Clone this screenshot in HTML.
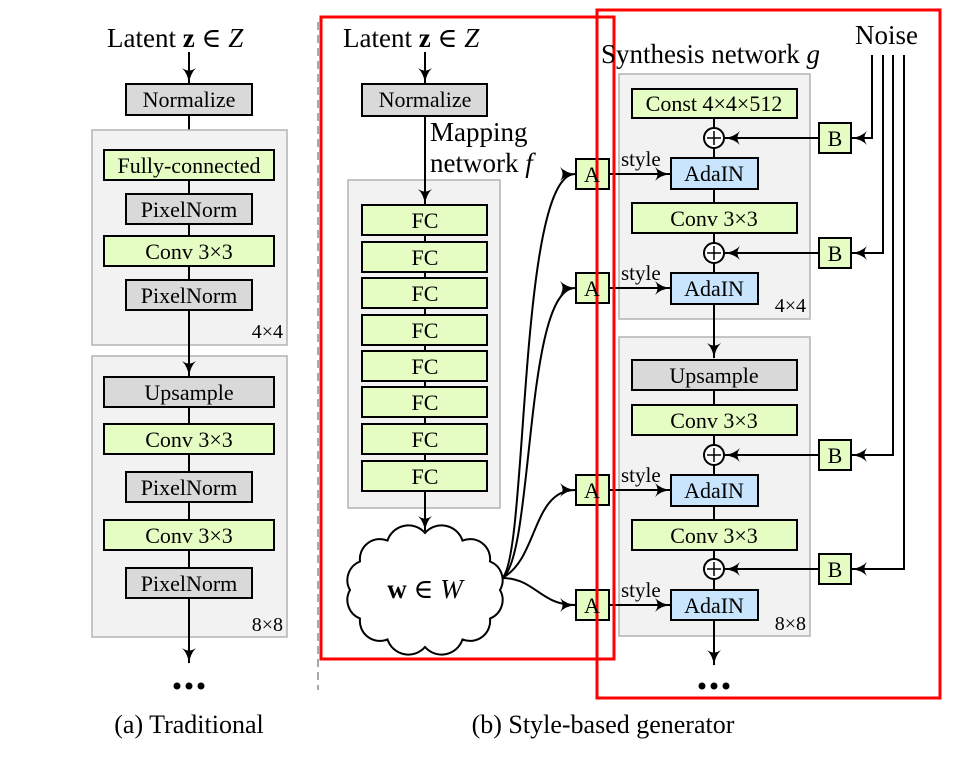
<!DOCTYPE html>
<html><head><meta charset="utf-8"><style>
html,body{margin:0;padding:0;background:#fff;}
svg{display:block;}
svg text{font-family:"Liberation Serif","DejaVu Serif",serif;fill:#000;}
</style></head><body>
<svg width="966" height="757" viewBox="0 0 966 757" xmlns="http://www.w3.org/2000/svg" font-family="Liberation Serif, DejaVu Serif, serif">
<defs>
<marker id="ah" viewBox="0 0 16 16" refX="15" refY="8" markerWidth="16" markerHeight="16" markerUnits="userSpaceOnUse" orient="auto">
<path d="M0,1 Q6,7 16,8 Q6,9 0,15 Q5,8 0,1Z" fill="#000"/>
</marker>
</defs>
<g stroke="#000" stroke-width="2" fill="none">
<line x1="189" y1="52" x2="189" y2="83" marker-end="url(#ah)"/>
<line x1="189" y1="115" x2="189" y2="149" marker-end="url(#ah)"/>
</g>
<g fill="#f2f2f2" stroke="#b3b3b3" stroke-width="1.5">
<rect x="92" y="130" width="195" height="215"/>
<rect x="92" y="356" width="195" height="281"/>
<rect x="348" y="180" width="152" height="328"/>
<rect x="619" y="74" width="191" height="245"/>
<rect x="619" y="337" width="191" height="299"/>
</g>
<g stroke="#000" stroke-width="2" fill="none">
<line x1="189" y1="180" x2="189" y2="376" marker-end="url(#ah)"/>
<line x1="189" y1="407" x2="189" y2="663" marker-end="url(#ah)"/>
<line x1="425" y1="52" x2="425" y2="83" marker-end="url(#ah)"/>
<line x1="425" y1="116" x2="425" y2="204" marker-end="url(#ah)"/>
<line x1="425" y1="235" x2="425" y2="461"/>
<line x1="425" y1="491" x2="425" y2="531" marker-end="url(#ah)"/>
<line x1="714" y1="118" x2="714" y2="273"/>
<line x1="714" y1="304" x2="714" y2="358" marker-end="url(#ah)"/>
<line x1="714" y1="390" x2="714" y2="620"/>
<line x1="714" y1="620" x2="714" y2="665" marker-end="url(#ah)"/>
<path d="M502,578 C528,560 518,174 575,174" marker-end="url(#ah)"/>
<path d="M502,578 C534,560 524,288 575,288" marker-end="url(#ah)"/>
<path d="M502,578 C538,560 532,490 575,490" marker-end="url(#ah)"/>
<path d="M502,578 C535,578 540,605 575,605" marker-end="url(#ah)"/>
<line x1="609" y1="174" x2="670" y2="174" marker-end="url(#ah)"/>
<line x1="609" y1="288" x2="670" y2="288" marker-end="url(#ah)"/>
<line x1="609" y1="490" x2="670" y2="490" marker-end="url(#ah)"/>
<line x1="609" y1="605" x2="670" y2="605" marker-end="url(#ah)"/>
<line x1="819" y1="138" x2="725" y2="138" marker-end="url(#ah)"/>
<line x1="819" y1="253" x2="725" y2="253" marker-end="url(#ah)"/>
<line x1="819" y1="455" x2="725" y2="455" marker-end="url(#ah)"/>
<line x1="819" y1="569" x2="725" y2="569" marker-end="url(#ah)"/>
<path d="M872,55 V138 H852" marker-end="url(#ah)"/>
<path d="M883,55 V253 H852" marker-end="url(#ah)"/>
<path d="M893,55 V455 H852" marker-end="url(#ah)"/>
<path d="M904,55 V569 H852" marker-end="url(#ah)"/>
</g>
<g stroke="#000" stroke-width="2">
<rect x="126" y="84" width="126" height="31" fill="#d9d9d9"/>
<rect x="104" y="150" width="170" height="30" fill="#e5fcc2"/>
<rect x="126" y="194" width="126" height="30" fill="#d9d9d9"/>
<rect x="104" y="236" width="170" height="30" fill="#e5fcc2"/>
<rect x="126" y="280" width="126" height="30" fill="#d9d9d9"/>
<rect x="104" y="377" width="170" height="30" fill="#d9d9d9"/>
<rect x="104" y="424" width="170" height="30" fill="#e5fcc2"/>
<rect x="126" y="472" width="126" height="30" fill="#d9d9d9"/>
<rect x="104" y="520" width="170" height="30" fill="#e5fcc2"/>
<rect x="126" y="568" width="126" height="30" fill="#d9d9d9"/>
<rect x="362" y="84" width="125" height="32" fill="#d9d9d9"/>
<g fill="#e5fcc2">
<rect x="362" y="205" width="125" height="30"/>
<rect x="362" y="242" width="125" height="30"/>
<rect x="362" y="278" width="125" height="30"/>
<rect x="362" y="315" width="125" height="30"/>
<rect x="362" y="351" width="125" height="30"/>
<rect x="362" y="387" width="125" height="30"/>
<rect x="362" y="424" width="125" height="30"/>
<rect x="362" y="461" width="125" height="30"/>
<rect x="576" y="159" width="33" height="30"/>
<rect x="576" y="273" width="33" height="30"/>
<rect x="576" y="475" width="33" height="30"/>
<rect x="576" y="590" width="33" height="30"/>
<rect x="819" y="123" width="32" height="30"/>
<rect x="819" y="238" width="32" height="30"/>
<rect x="819" y="440" width="32" height="30"/>
<rect x="819" y="554" width="32" height="30"/>
<rect x="632" y="89" width="165" height="29"/>
<rect x="632" y="203" width="165" height="30"/>
<rect x="632" y="405" width="165" height="30"/>
<rect x="632" y="520" width="165" height="30"/>
</g>
<rect x="632" y="360" width="165" height="30" fill="#d9d9d9"/>
<g fill="#c9e5fd">
<rect x="671" y="158" width="87" height="31"/>
<rect x="671" y="273" width="87" height="31"/>
<rect x="671" y="475" width="87" height="31"/>
<rect x="671" y="590" width="87" height="30"/>
</g>
<g fill="#fff">
<circle cx="714" cy="138" r="10"/>
<circle cx="714" cy="253" r="10"/>
<circle cx="714" cy="455" r="10"/>
<circle cx="714" cy="569" r="10"/>
</g>
<path fill="#fff" d="M500,590 A20,20 0 0 1 490,618.5 A20,20 0 0 1 462.5,639.4 A22,22 0 0 1 425,647 A22,22 0 0 1 387.5,639.4 A20,20 0 0 1 360,618.5 A20,20 0 0 1 350,590 A20,20 0 0 1 360,561.5 A20,20 0 0 1 387.5,540.6 A22,22 0 0 1 425,533 A22,22 0 0 1 462.5,540.6 A20,20 0 0 1 490,561.5 A20,20 0 0 1 500,590Z"/>
</g>
<g stroke="#000" stroke-width="1.5">
<line x1="714" y1="131" x2="714" y2="145"/><line x1="707" y1="138" x2="721" y2="138"/>
<line x1="714" y1="246" x2="714" y2="260"/><line x1="707" y1="253" x2="721" y2="253"/>
<line x1="714" y1="448" x2="714" y2="462"/><line x1="707" y1="455" x2="721" y2="455"/>
<line x1="714" y1="562" x2="714" y2="576"/><line x1="707" y1="569" x2="721" y2="569"/>
</g>
<line x1="318" y1="22" x2="318" y2="690" stroke="#aaa" stroke-width="2" stroke-dasharray="8,5"/>
<rect x="321" y="17" width="293" height="642" fill="none" stroke="#f00" stroke-width="3"/>
<rect x="597" y="10" width="343" height="688" fill="none" stroke="#f00" stroke-width="3"/>
<g font-size="22" text-anchor="middle">
<text x="189" y="107">Normalize</text>
<text x="189" y="173">Fully-connected</text>
<text x="189" y="217">PixelNorm</text>
<text x="189" y="259">Conv 3×3</text>
<text x="189" y="303">PixelNorm</text>
<text x="189" y="400">Upsample</text>
<text x="189" y="447">Conv 3×3</text>
<text x="189" y="495">PixelNorm</text>
<text x="189" y="543">Conv 3×3</text>
<text x="189" y="591">PixelNorm</text>
<text x="425" y="107">Normalize</text>
<text x="425" y="228">FC</text><text x="425" y="265">FC</text><text x="425" y="301">FC</text><text x="425" y="338">FC</text>
<text x="425" y="374">FC</text><text x="425" y="410">FC</text><text x="425" y="447">FC</text><text x="425" y="484">FC</text>
<text x="592" y="182">A</text><text x="592" y="296">A</text><text x="592" y="498">A</text><text x="592" y="613">A</text>
<text x="835" y="146">B</text><text x="835" y="261">B</text><text x="835" y="463">B</text><text x="835" y="577">B</text>
<text x="714" y="111">Const 4×4×512</text>
<text x="714" y="226">Conv 3×3</text>
<text x="714" y="383">Upsample</text>
<text x="714" y="428">Conv 3×3</text>
<text x="714" y="543">Conv 3×3</text>
<text x="714" y="181">AdaIN</text><text x="714" y="296">AdaIN</text><text x="714" y="498">AdaIN</text><text x="714" y="613">AdaIN</text>
</g>
<g font-size="20" text-anchor="end">
<text x="283" y="338">4×4</text>
<text x="283" y="631">8×8</text>
<text x="806" y="312">4×4</text>
<text x="806" y="630">8×8</text>
</g>
<g font-size="21">
<text x="621" y="166">style</text><text x="621" y="280">style</text><text x="621" y="482">style</text><text x="621" y="597">style</text>
</g>
<g font-size="27">
<text x="107" y="47">Latent <tspan font-weight="bold">z</tspan> ∈ <tspan font-style="italic">Z</tspan></text>
<text x="343" y="47">Latent <tspan font-weight="bold">z</tspan> ∈ <tspan font-style="italic">Z</tspan></text>
<text x="855" y="44">Noise</text>
<text x="601" y="63">Synthesis network <tspan font-style="italic">g</tspan></text>
<text x="430" y="141">Mapping</text>
<text x="430" y="172">network <tspan font-style="italic">f</tspan></text>
<text x="425" y="598" text-anchor="middle"><tspan font-weight="bold">w</tspan> ∈ <tspan font-style="italic">W</tspan></text>
</g>
<g font-size="26" text-anchor="middle">
<text x="189" y="733">(a) Traditional</text>
<text x="603" y="733">(b) Style-based generator</text>
</g>
<g fill="#000">
<circle cx="177" cy="686" r="3.5"/><circle cx="189" cy="686" r="3.5"/><circle cx="201" cy="686" r="3.5"/>
<circle cx="702" cy="686" r="3.5"/><circle cx="714" cy="686" r="3.5"/><circle cx="726" cy="686" r="3.5"/>
</g>
</svg>
</body></html>
